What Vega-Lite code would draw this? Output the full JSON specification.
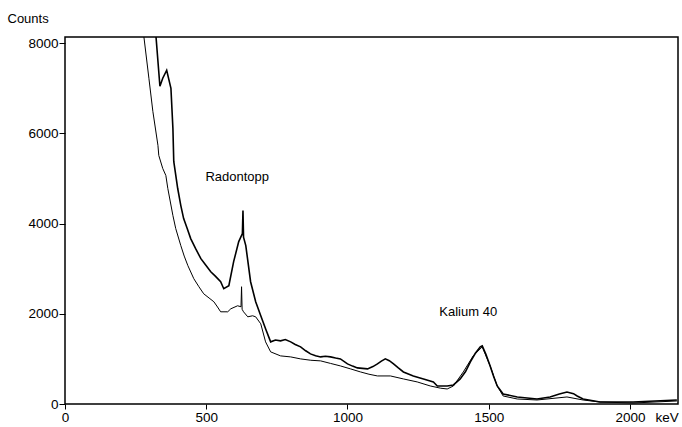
{
  "$schema": "https://vega.github.io/schema/vega-lite/v6.json",
  "autosize": "none",
  "width": 613,
  "height": 367,
  "padding": {"left": 65, "top": 37, "right": 4, "bottom": 23},
  "background": "white",
  "config": {
    "view": {"stroke": "black", "strokeWidth": 1.5},
    "font": "Liberation Sans"
  },
  "datasets": {
    "upper": [
      {"kev": 311, "counts": 8890}, {"kev": 322, "counts": 8155}, {"kev": 336, "counts": 7044}, {"kev": 346, "counts": 7222},
      {"kev": 360, "counts": 7400}, {"kev": 375, "counts": 7000}, {"kev": 382, "counts": 6111}, {"kev": 385, "counts": 5378},
      {"kev": 399, "counts": 4778}, {"kev": 410, "counts": 4400}, {"kev": 420, "counts": 4111}, {"kev": 432, "counts": 3900},
      {"kev": 445, "counts": 3667}, {"kev": 462, "counts": 3450}, {"kev": 481, "counts": 3222}, {"kev": 498, "counts": 3080},
      {"kev": 516, "counts": 2933}, {"kev": 533, "counts": 2830}, {"kev": 551, "counts": 2711}, {"kev": 562, "counts": 2556},
      {"kev": 580, "counts": 2622}, {"kev": 597, "counts": 3156}, {"kev": 615, "counts": 3600}, {"kev": 628, "counts": 3778},
      {"kev": 630, "counts": 4289}, {"kev": 632, "counts": 3700}, {"kev": 640, "counts": 3511}, {"kev": 657, "counts": 2711},
      {"kev": 675, "counts": 2267}, {"kev": 693, "counts": 1956}, {"kev": 710, "counts": 1667}, {"kev": 728, "counts": 1378},
      {"kev": 745, "counts": 1420}, {"kev": 763, "counts": 1400}, {"kev": 780, "counts": 1430}, {"kev": 799, "counts": 1378},
      {"kev": 815, "counts": 1320}, {"kev": 834, "counts": 1267}, {"kev": 852, "counts": 1180}, {"kev": 869, "counts": 1111},
      {"kev": 887, "counts": 1070}, {"kev": 905, "counts": 1044}, {"kev": 922, "counts": 1060}, {"kev": 940, "counts": 1044},
      {"kev": 958, "counts": 1020}, {"kev": 975, "counts": 1000}, {"kev": 1000, "counts": 889}, {"kev": 1018, "counts": 840},
      {"kev": 1035, "counts": 800}, {"kev": 1053, "counts": 790}, {"kev": 1071, "counts": 778}, {"kev": 1090, "counts": 830},
      {"kev": 1106, "counts": 889}, {"kev": 1120, "counts": 950}, {"kev": 1134, "counts": 1000}, {"kev": 1148, "counts": 960},
      {"kev": 1163, "counts": 889}, {"kev": 1180, "counts": 800}, {"kev": 1198, "counts": 711}, {"kev": 1233, "counts": 622},
      {"kev": 1269, "counts": 556}, {"kev": 1304, "counts": 489}, {"kev": 1318, "counts": 400}, {"kev": 1353, "counts": 400},
      {"kev": 1375, "counts": 422}, {"kev": 1399, "counts": 556}, {"kev": 1418, "counts": 720}, {"kev": 1435, "counts": 933},
      {"kev": 1452, "counts": 1120}, {"kev": 1470, "counts": 1267}, {"kev": 1477, "counts": 1289}, {"kev": 1490, "counts": 1100},
      {"kev": 1505, "counts": 844}, {"kev": 1518, "counts": 600}, {"kev": 1530, "counts": 400}, {"kev": 1551, "counts": 222},
      {"kev": 1601, "counts": 156}, {"kev": 1671, "counts": 111}, {"kev": 1717, "counts": 156}, {"kev": 1750, "counts": 220},
      {"kev": 1777, "counts": 267}, {"kev": 1800, "counts": 230}, {"kev": 1813, "counts": 178}, {"kev": 1834, "counts": 111},
      {"kev": 1894, "counts": 44}, {"kev": 2011, "counts": 44}, {"kev": 2166, "counts": 89}
    ],
    "lower": [
      {"kev": 269, "counts": 8890}, {"kev": 279, "counts": 8155}, {"kev": 297, "counts": 7222}, {"kev": 311, "counts": 6489},
      {"kev": 329, "counts": 5733}, {"kev": 332, "counts": 5511}, {"kev": 346, "counts": 5222}, {"kev": 357, "counts": 5067},
      {"kev": 364, "counts": 4778}, {"kev": 382, "counts": 4178}, {"kev": 392, "counts": 3889}, {"kev": 410, "counts": 3511},
      {"kev": 422, "counts": 3280}, {"kev": 435, "counts": 3067}, {"kev": 456, "counts": 2778}, {"kev": 474, "counts": 2600},
      {"kev": 491, "counts": 2444}, {"kev": 510, "counts": 2350}, {"kev": 527, "counts": 2267}, {"kev": 540, "counts": 2150},
      {"kev": 551, "counts": 2044}, {"kev": 576, "counts": 2044}, {"kev": 587, "counts": 2111}, {"kev": 611, "counts": 2178},
      {"kev": 623, "counts": 2156}, {"kev": 625, "counts": 2600}, {"kev": 627, "counts": 2100}, {"kev": 632, "counts": 2044},
      {"kev": 647, "counts": 1933}, {"kev": 664, "counts": 1956}, {"kev": 675, "counts": 1933}, {"kev": 693, "counts": 1778},
      {"kev": 710, "counts": 1378}, {"kev": 728, "counts": 1156}, {"kev": 763, "counts": 1067}, {"kev": 799, "counts": 1044},
      {"kev": 834, "counts": 1000}, {"kev": 870, "counts": 970}, {"kev": 905, "counts": 956}, {"kev": 940, "counts": 900},
      {"kev": 975, "counts": 844}, {"kev": 1011, "counts": 778}, {"kev": 1046, "counts": 711}, {"kev": 1076, "counts": 660},
      {"kev": 1106, "counts": 622}, {"kev": 1152, "counts": 622}, {"kev": 1198, "counts": 556}, {"kev": 1247, "counts": 489},
      {"kev": 1293, "counts": 400}, {"kev": 1330, "counts": 350}, {"kev": 1353, "counts": 333}, {"kev": 1375, "counts": 400},
      {"kev": 1410, "counts": 711}, {"kev": 1445, "counts": 1067}, {"kev": 1477, "counts": 1267}, {"kev": 1505, "counts": 844},
      {"kev": 1530, "counts": 400}, {"kev": 1551, "counts": 178}, {"kev": 1601, "counts": 111}, {"kev": 1671, "counts": 89},
      {"kev": 1777, "counts": 156}, {"kev": 1834, "counts": 89}, {"kev": 1894, "counts": 44}, {"kev": 2011, "counts": 22},
      {"kev": 2166, "counts": 67}
    ],
    "notes": [
      {"kev": 497, "counts": 5044, "text": "Radontopp"},
      {"kev": 1325, "counts": 2044, "text": "Kalium 40"}
    ]
  },
  "encoding": {
    "x": {
      "field": "kev", "type": "quantitative",
      "scale": {"domain": [0, 2170], "nice": false, "zero": false},
      "axis": {
        "values": [0, 500, 1000, 1500, 2000], "format": "d",
        "grid": false, "domain": false, "tickColor": "black", "tickSize": 5, "tickWidth": 1,
        "labelFont": "Liberation Sans", "labelFontSize": 13.5, "labelColor": "black", "labelPadding": 1,
        "labelFlush": false,
        "title": "keV", "titleFont": "Liberation Sans", "titleFontSize": 13.5, "titleFontWeight": "normal",
        "titleColor": "black", "titleAnchor": "start", "titleAlign": "left", "titleX": 590, "titleY": 13, "titleBaseline": "middle"
      }
    },
    "y": {
      "field": "counts", "type": "quantitative",
      "scale": {"domain": [0, 8137], "nice": false},
      "axis": {
        "values": [0, 2000, 4000, 6000, 8000], "format": "d",
        "grid": false, "domain": false, "tickColor": "black", "tickSize": 6, "tickWidth": 1,
        "labelFont": "Liberation Sans", "labelFontSize": 13.5, "labelColor": "black", "labelPadding": 1,
        "labelFlush": false,
        "title": "Counts", "titleFont": "Liberation Sans", "titleFontSize": 13, "titleFontWeight": "normal",
        "titleColor": "black", "titleAngle": 0, "titleAlign": "left", "titleBaseline": "middle",
        "titleX": -58, "titleY": -19
      }
    }
  },
  "layer": [
    {
      "data": {"name": "lower"},
      "mark": {"type": "line", "color": "black", "strokeWidth": 1, "clip": true}
    },
    {
      "data": {"name": "upper"},
      "mark": {"type": "line", "color": "black", "strokeWidth": 1.6, "clip": true}
    },
    {
      "data": {"name": "notes"},
      "mark": {"type": "text", "align": "left", "baseline": "middle", "font": "Liberation Sans", "fontSize": 13, "color": "black"},
      "encoding": {"text": {"field": "text"}}
    }
  ]
}
